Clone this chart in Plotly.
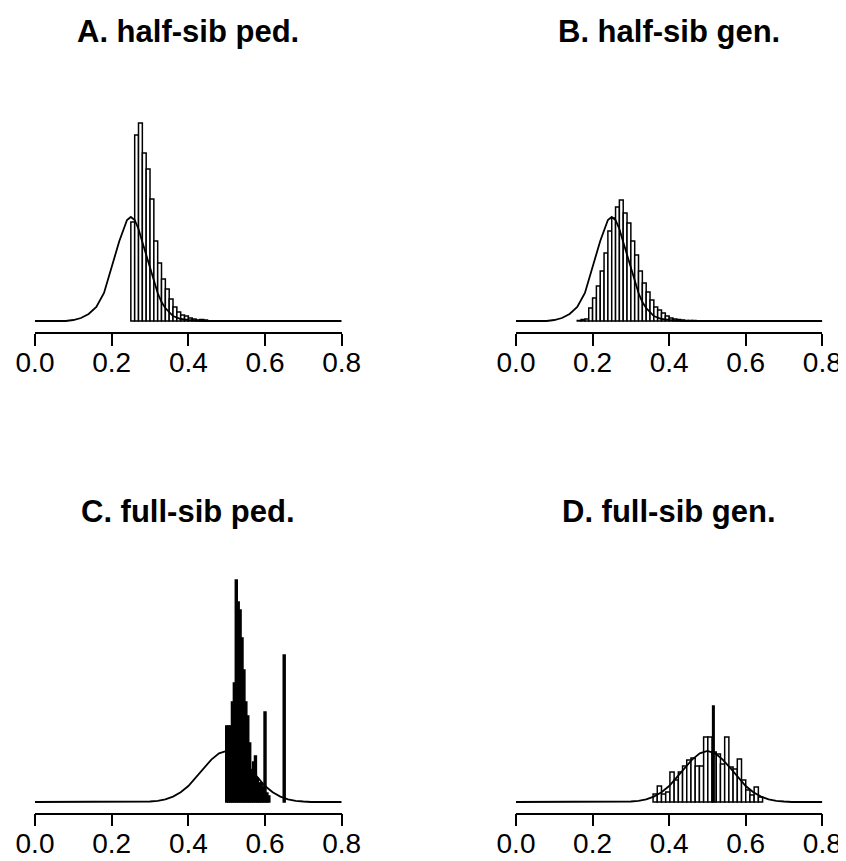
import plotly.graph_objects as go

# ---------------- data ----------------
titles = ["A. half-sib ped.", "B. half-sib gen.", "C. full-sib ped.", "D. full-sib gen."]
tick_vals = [0.0, 0.2, 0.4, 0.6, 0.8]
tick_text = ["0.0", "0.2", "0.4", "0.6", "0.8"]

# Panel A histogram (bin width 0.01)
a_left = [0.25, 0.26, 0.27, 0.28, 0.29, 0.30, 0.31, 0.32, 0.33, 0.34,
          0.35, 0.36, 0.37, 0.38, 0.39, 0.40, 0.41, 0.42, 0.43, 0.44]
a_height = [99, 186, 198, 168, 152, 122, 80, 58, 42, 32,
            22, 14, 9, 6, 5, 3, 2, 1, 1.5, 1]

# Panel B histogram (bin width 0.01)
b_left = [0.16, 0.17, 0.18, 0.19, 0.20, 0.21, 0.22, 0.23, 0.24, 0.25,
          0.26, 0.27, 0.28, 0.29, 0.30, 0.31, 0.32, 0.33, 0.34, 0.35,
          0.36, 0.37, 0.38, 0.39, 0.40, 0.41, 0.42, 0.43, 0.44, 0.45, 0.46]
b_height = [0.5, 1.5, 2, 13, 23, 35, 50, 68, 90, 103,
            114, 121, 108, 98, 80, 66, 50, 38, 29, 21,
            14, 11, 8, 5, 3, 2, 1.5, 1, 0.5, 0.5, 0.5]

# Panel C histogram (bin width 0.005, centres)
c_mid = [0.500, 0.505, 0.510, 0.515, 0.520, 0.525, 0.530, 0.535, 0.540, 0.545,
         0.550, 0.555, 0.560, 0.565, 0.570, 0.575, 0.580, 0.585, 0.590, 0.595,
         0.600, 0.605, 0.610, 0.650]
c_height = [76, 76, 76, 100, 119, 222, 200, 192, 164, 132,
            100, 86, 59, 32, 40, 46, 24, 19, 19, 15,
            90, 9, 6, 147]

# Panel D histogram (bin width 0.011, left edges) + narrow spike
d_left = [0.358, 0.369, 0.380, 0.391, 0.402, 0.413, 0.424, 0.435, 0.446, 0.457,
          0.468, 0.479, 0.490, 0.501, 0.512, 0.523, 0.534, 0.545, 0.556, 0.567,
          0.578, 0.589, 0.600, 0.611, 0.622, 0.633]
d_height = [8, 16, 8, 10, 30, 22, 30, 36, 42, 44,
            36, 36, 65, 65, 50, 48, 38, 65, 35, 33,
            43, 22, 12, 7, 15, 5]
d_spike_mid = [0.5155]
d_spike_height = [96]

# Expected-relatedness curves
hs_x = [0.00, 0.08, 0.10, 0.12, 0.14, 0.16, 0.18, 0.20, 0.22, 0.24, 0.25,
        0.26, 0.27, 0.28, 0.29, 0.30, 0.31, 0.32, 0.33, 0.34, 0.36, 0.38,
        0.40, 0.42, 0.44, 0.80]
hs_y = [0, 0, 1, 3, 7, 14, 28, 53, 80, 101, 104,
        101, 92, 79, 66, 53, 39, 28, 19, 13, 5, 2,
        1, 0.5, 0, 0]

fs_x = [0.00, 0.28, 0.30, 0.32, 0.34, 0.36, 0.38, 0.40, 0.42, 0.44, 0.46, 0.48, 0.50,
        0.52, 0.54, 0.56, 0.58, 0.60, 0.62, 0.64, 0.66, 0.68, 0.70, 0.72, 0.80]
fs_y = [0, 0, 0.5, 1.2, 2.7, 5.4, 9.7, 16, 24.5, 33.8, 42.4, 48.7, 51,
        48.7, 42.4, 33.8, 24.5, 16, 9.7, 5.4, 2.7, 1.2, 0.5, 0, 0]

# ---------------- layout helpers ----------------
W, H = 846, 861
OFF = 8   # page body margin: figure coordinates = window coordinates - OFF
FONT = "Liberation Sans, Arial, sans-serif"
cols = [(35, 341.7), (516, 822.3)]          # window px of 0.0 and 0.8
rows = [(332, 321, 31), (812.5, 802, 511)]  # axis line, zero baseline, title centre (window px)
PLOT_H = 260

def fx(px):
    return (px - OFF) / W

def fy(py):
    return 1 - (py - OFF) / H

fig = go.Figure()
layout = dict(template="none", width=W, height=H, margin=dict(l=0, r=0, t=0, b=0, autoexpand=False),
              paper_bgcolor="white", plot_bgcolor="white",
              showlegend=False, barmode="overlay", annotations=[])

bar_lw = 1.5

def add_panel(i, bars, curve):
    r, c = divmod(i, 2)
    xa = "x" if i == 0 else f"x{i+1}"
    ya = "y" if i == 0 else f"y{i+1}"
    x0, x1 = cols[c]
    axis_px, base_px, title_px = rows[r]
    gap = axis_px - base_px
    top_px = axis_px - PLOT_H
    for (xs, ys, w, fill) in bars:
        fig.add_trace(go.Bar(x=xs, y=ys, width=w, xaxis=xa, yaxis=ya,
                             marker=dict(color=fill, line=dict(color="black", width=bar_lw)),
                             hoverinfo="skip"))
    cx, cy = curve
    fig.add_trace(go.Scatter(x=cx, y=cy, mode="lines", xaxis=xa, yaxis=ya,
                             line=dict(color="black", width=1.8), hoverinfo="skip"))
    key = "xaxis" if i == 0 else f"xaxis{i+1}"
    ykey = "yaxis" if i == 0 else f"yaxis{i+1}"
    layout[key] = dict(domain=[fx(x0), fx(x1)], range=[0, 0.8], anchor=ya,
                       automargin=False,
                       showline=True, linecolor="black", linewidth=1.6,
                       ticks="outside", ticklen=12, tickwidth=1.6, tickcolor="black",
                       ticklabelstandoff=-7, ticklabeloverflow="allow",
                       tickvals=tick_vals, ticktext=tick_text,
                       tickfont=dict(family=FONT, size=28, color="black"),
                       showgrid=False, zeroline=False, fixedrange=True)
    layout[ykey] = dict(domain=[fy(axis_px), fy(top_px)], range=[-gap, PLOT_H - gap],
                        anchor=xa, visible=False, automargin=False, fixedrange=True)
    layout["annotations"].append(dict(text=f"<b>{titles[i]}</b>", xref="paper", yref="paper",
                                      x=fx((x0 + x1) / 2), y=fy(title_px),
                                      xanchor="center", yanchor="middle", showarrow=False,
                                      font=dict(family=FONT, size=31, color="black")))

a_mid = [v + 0.005 for v in a_left]
b_mid = [v + 0.005 for v in b_left]
d_mid = [v + 0.0055 for v in d_left]

add_panel(0, [(a_mid, a_height, 0.01, "white")], (hs_x, hs_y))
add_panel(1, [(b_mid, b_height, 0.01, "white")], (hs_x, hs_y))
add_panel(2, [(c_mid, c_height, 0.005, "black")], (fs_x, fs_y))
add_panel(3, [(d_mid, d_height, 0.011, "white"),
              (d_spike_mid, d_spike_height, 0.004, "black")], (fs_x, fs_y))

fig.update_layout(**layout)
fig.write_html("out.html")
